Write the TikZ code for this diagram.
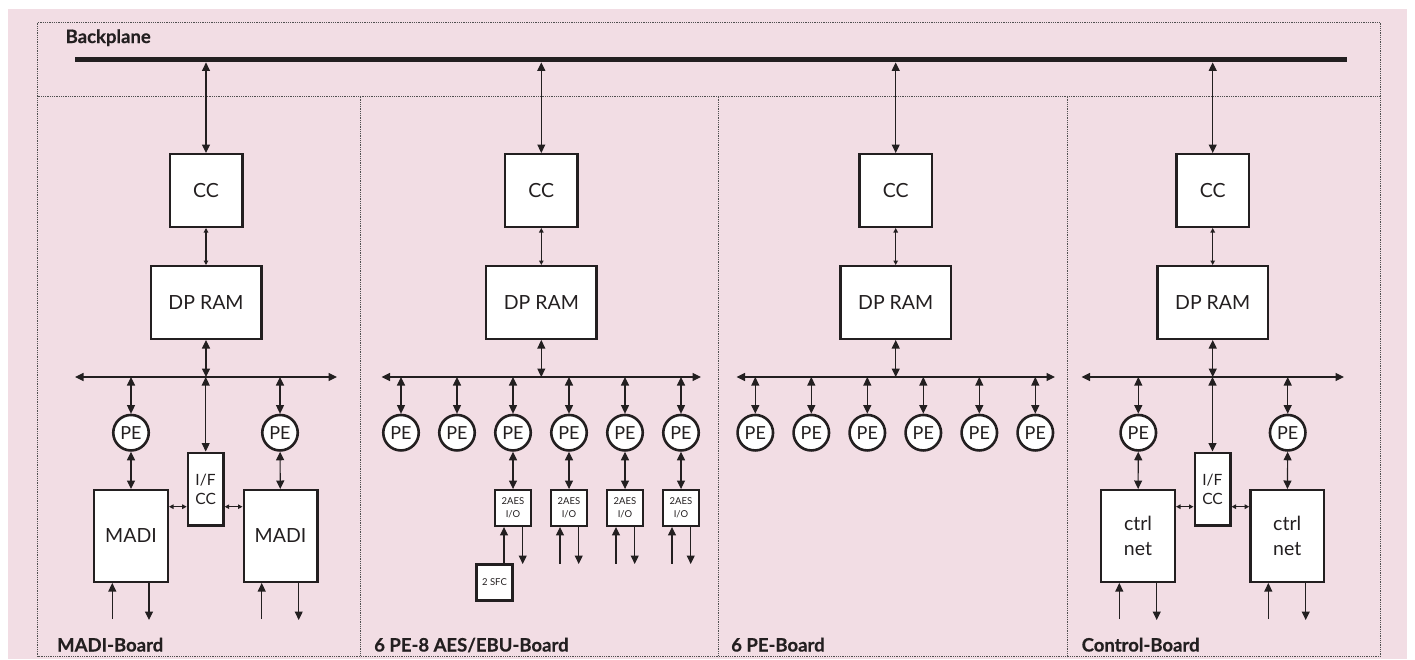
\documentclass[tikz,border=0pt]{standalone}
\usepackage{fontspec}
\setmainfont{Lato}
\newfontfamily\heavy[FakeBold=0.5]{Lato}
\usetikzlibrary{arrows.meta}
\definecolor{bg}{RGB}{242,221,228}
\definecolor{ink}{RGB}{35,31,32}
\definecolor{dotc}{RGB}{80,80,80}
\begin{document}
\begin{tikzpicture}[x=1pt,y=-1pt,
  box/.style={draw=ink,line width=2.4pt,fill=white,inner sep=0pt,text=ink},
  big/.style={box,minimum width=#1,font=\fontsize{19.5}{25}\selectfont,align=center},
  pe/.style={circle,draw=ink,line width=2.6pt,fill=white,minimum size=35.5pt,inner sep=0pt,text=ink,font=\fontsize{18}{18}\selectfont},
  ifbox/.style={box,minimum width=35.6pt,minimum height=72.6pt,font=\fontsize{15.5}{19}\selectfont,align=left},
  aesbox/.style={box,minimum width=36pt,minimum height=35.5pt,font=\fontsize{9.5}{12.5}\selectfont,align=center},
  conn/.style={draw=ink,line width=1.1pt},
  arrb/.style={conn,{Triangle[length=8.5pt,width=8pt]}-{Triangle[length=8.5pt,width=8pt]}},
  arrs/.style={conn,{Triangle[length=4.5pt,width=4.5pt]}-{Triangle[length=4.5pt,width=4.5pt]}},
  arr/.style={conn,-{Triangle[length=8.5pt,width=8pt]}},
  frame/.style={draw=dotc,line width=0.9pt,dash pattern=on 0.9pt off 0.9pt},
  lbl/.style={anchor=base west,inner sep=0pt,text=ink,font=\fontsize{18.5}{18.5}\heavy\bfseries}
]
\useasboundingbox (0,0) rectangle (1415,659);
\fill[bg] (8,9) rectangle (1407,659);
% frames
\draw[frame] (37.5,22.5) rectangle (1380.5,656.5);
\draw[frame] (37.5,96.7) -- (1380.5,96.7);
\draw[frame] (360.7,96.7) -- (360.7,656.5);
\draw[frame] (718.7,96.7) -- (718.7,656.5);
\draw[frame] (1067.5,96.7) -- (1067.5,656.5);
% labels
\node[lbl] (lbp) at (65.5,43) {Backplane};
\node[lbl] (lb1) at (57,651.5) {MADI-Board};
\node[lbl] (lb2) at (374,651.5) {6 PE-8 AES/EBU-Board};
\node[lbl] (lb3) at (731,651.5) {6 PE-Board};
\node[lbl] (lb4) at (1081.5,651.5) {Control-Board};
% backplane bus
\node[fill=ink,minimum width=1272pt,minimum height=5pt,inner sep=0pt] (bus) at (711,59.7) {};
% CC and DP RAM
\foreach \c/\x in {1/206,2/541.3,3/895.7,4/1212.7} {
  \node[big=72.6pt,minimum height=72.6pt] (cc\c) at (\x,190.5) {CC};
  \node[big=110.6pt,minimum height=72.6pt] (dp\c) at (\x,302.5) {DP RAM};
  \draw[arrb] (bus.south -| cc\c) -- (cc\c);
  \draw[arrs] (cc\c) -- (dp\c);
}
% board buses
\coordinate (b1l) at (75,377);   \coordinate (b1r) at (337,377);
\coordinate (b2l) at (381.5,377); \coordinate (b2r) at (701,377);
\coordinate (b3l) at (736.5,377); \coordinate (b3r) at (1055,377);
\coordinate (b4l) at (1081.5,377); \coordinate (b4r) at (1344,377);
\foreach \c in {1,2,3,4} {
  \draw[arrb] (b\c l) -- (b\c r);
  \draw[arrb] (dp\c) -- (dp\c |- b\c l);
}
% ---------- MADI board ----------
\node[pe] (pe11) at (131,432.7) {PE};
\node[pe] (pe12) at (280,432.7) {PE};
\node[big=73.6pt,minimum height=91.6pt] (madi1) at (131,536) {MADI};
\node[big=73.6pt,minimum height=91.6pt] (madi2) at (280.5,536) {MADI};
\node[ifbox] (if1) at (205.7,489) {I/F\\CC};
\draw[arrb] (if1 |- b1l) -- (if1);
\foreach \p in {11,12} {\draw[arrb] (pe\p |- b1l) -- (pe\p);}
\draw[arrb] (pe11) -- (madi1);
\draw[arrb] (pe12) -- (madi2);
\coordinate (y1) at (0,506.7);
\draw[arrs] (madi1.east |- y1) -- (if1.west |- y1);
\draw[arrs] (if1.east |- y1) -- (madi2.west |- y1);
\coordinate (m1i) at (112.3,619); \coordinate (m1o) at (149,620);
\coordinate (m2i) at (261.7,619); \coordinate (m2o) at (298.7,620);
\draw[arr] (m1i) -- (m1i |- madi1.south);
\draw[arr] (m1o |- madi1.south) -- (m1o);
\draw[arr] (m2i) -- (m2i |- madi2.south);
\draw[arr] (m2o |- madi2.south) -- (m2o);
% ---------- 6 PE-8 AES/EBU board ----------
\foreach \i in {0,...,5} {
  \pgfmathsetmacro\px{401+56*\i}
  \node[pe] (pea\i) at (\px,432.7) {PE};
  \draw[arrb] (pea\i |- b2l) -- (pea\i);
}
\foreach \i/\x/\p in {1/513/2,2/569/3,3/625/4,4/681/5} {
  \node[aesbox] (aes\i) at (\x,508) {2AES\\I/O};
  \draw[arrb] (pea\p) -- (aes\i);
  \pgfmathsetmacro\xi{\x-9}
  \pgfmathsetmacro\xo{\x+9.7}
  \coordinate (ai\i) at (\xi,563.5);
  \coordinate (ao\i) at (\xo,564);
  \draw[arr] (ao\i |- aes\i.south) -- (ao\i);
}
\node[aesbox,minimum width=36pt,minimum height=36pt] (sfc) at (494.5,582.5) {2 SFC};
\draw[arr] (sfc.north -| ai1) -- (ai1 |- aes1.south);
\foreach \i in {2,3,4} {\draw[arr] (ai\i) -- (ai\i |- aes\i.south);}
% ---------- 6 PE board ----------
\foreach \i in {0,...,5} {
  \pgfmathsetmacro\px{755.3+56*\i}
  \node[pe] (peb\i) at (\px,432.7) {PE};
  \draw[arrb] (peb\i |- b3l) -- (peb\i);
}
% ---------- Control board ----------
\node[pe] (pe41) at (1138.3,432.7) {PE};
\node[pe] (pe42) at (1287.7,432.7) {PE};
\node[big=73.6pt,minimum height=91.6pt] (cn1) at (1138,536) {ctrl\\net};
\node[big=73.6pt,minimum height=91.6pt] (cn2) at (1287.2,536) {ctrl\\net};
\node[ifbox] (if4) at (1212.5,489) {I/F\\CC};
\draw[arrb] (if4 |- b4l) -- (if4);
\foreach \p in {41,42} {\draw[arrb] (pe\p |- b4l) -- (pe\p);}
\draw[arrb] (pe41) -- (cn1);
\draw[arrb] (pe42) -- (cn2);
\draw[arrs] (cn1.east |- y1) -- (if4.west |- y1);
\draw[arrs] (if4.east |- y1) -- (cn2.west |- y1);
\coordinate (c1i) at (1119.3,619); \coordinate (c1o) at (1156.7,620);
\coordinate (c2i) at (1268.3,619); \coordinate (c2o) at (1305.7,620);
\draw[arr] (c1i) -- (c1i |- cn1.south);
\draw[arr] (c1o |- cn1.south) -- (c1o);
\draw[arr] (c2i) -- (c2i |- cn2.south);
\draw[arr] (c2o |- cn2.south) -- (c2o);
\end{tikzpicture}
\end{document}
